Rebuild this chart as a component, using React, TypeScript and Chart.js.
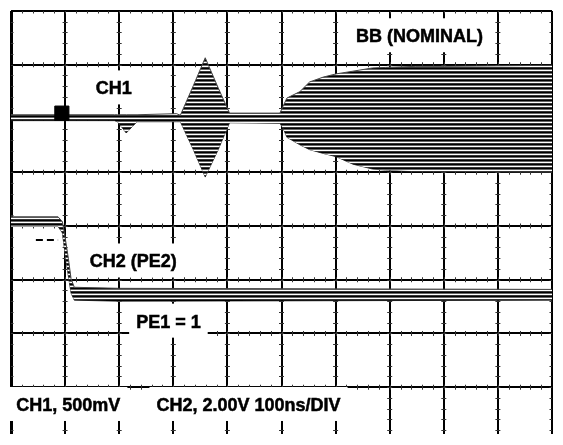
import React, { useEffect, useRef } from "react";
import { Chart, registerables } from "chart.js";

Chart.register(...registerables);

// Horizontal axis: time in divisions (100 ns/DIV), 10 divisions across the screen.
// Vertical axis: screen divisions, 0 = bottom, 8 = top.
const xDivisions = [0, 1, 2, 3, 4, 5, 6, 7, 8, 9, 10];

// CH1 (500 mV/div) – envelope of the burst seen on the screen
const ch1X = [0.0, 1.91, 1.97, 2.13, 2.33, 3.06, 3.13, 3.37, 3.59, 3.83, 4.04, 4.97, 5.03, 5.1, 5.34, 5.52, 5.77, 6.01, 6.32, 6.68, 6.92, 7.47, 8.01, 10.0];
const ch1Upper = [6.07, 6.07, 6.07, 6.07, 6.07, 6.09, 6.06, 6.61, 7.13, 6.57, 6.1, 6.1, 6.23, 6.38, 6.5, 6.68, 6.77, 6.83, 6.88, 6.94, 6.95, 6.97, 6.97, 6.99];
const ch1Lower = [5.96, 5.96, 5.94, 5.73, 5.94, 5.94, 5.94, 5.42, 4.91, 5.42, 5.92, 5.91, 5.82, 5.65, 5.51, 5.42, 5.35, 5.29, 5.15, 5.06, 5.04, 5.02, 5.02, 5.0];

// CH2 (PE2), 2.00 V/div – falling step
const ch2X = [0, 0.87, 0.95, 1.0, 1.06, 1.11, 1.17, 2.0, 10.0];
const ch2Upper = [4.17, 4.17, 4.08, 3.79, 3.4, 3.02, 2.86, 2.84, 2.82];
const ch2Lower = [3.99, 3.99, 3.87, 3.48, 3.07, 2.75, 2.62, 2.6, 2.62];

// CH2 ground reference marker (dashed) and CH1 marker block
const ch2RefX = [0.46, 0.87];
const ch2RefY = [3.74, 3.74];
const ch1MarkX = [0.94];
const ch1MarkY = [6.1];

// On-screen annotations
const labelTexts = ["CH1", "BB (NOMINAL)", "CH2 (PE2)", "PE1 = 1", "CH1, 500mV", "CH2, 2.00V 100ns/DIV"];
const labelXs = [1.9, 7.55, 2.26, 2.91, 1.06, 4.39];
const labelYs = [6.56, 7.53, 3.34, 2.22, 0.67, 0.67];

const FONT = "bold 18px 'Liberation Sans', Arial, sans-serif";

function pts(xs: number[], ys: number[]) {
  return xs.map((x, i) => ({ x, y: ys[i] }));
}

function makeStripe(): CanvasPattern | string {
  const c = document.createElement("canvas");
  c.width = 4;
  c.height = 4;
  const g = c.getContext("2d");
  if (!g) return "#333";
  const rows = ["#000000", "#666666", "#ffffff", "#333333"];
  rows.forEach((col, i) => {
    g.fillStyle = col;
    g.fillRect(0, i, 4, 1);
  });
  return g.createPattern(c, "repeat") || "#333";
}

const minorTicks = {
  id: "minorTicks",
  beforeDatasetsDraw(chart: any) {
    const { ctx, scales, chartArea } = chart;
    const xs = scales.x;
    const ys = scales.y;
    ctx.save();
    ctx.beginPath();
    ctx.rect(chartArea.left, chartArea.top, chartArea.right - chartArea.left, chartArea.bottom - chartArea.top);
    ctx.clip();
    ctx.strokeStyle = "#333";
    ctx.lineWidth = 1;
    ctx.beginPath();
    for (let yv = 1; yv <= 8; yv++) {
      const py = ys.getPixelForValue(yv);
      for (let k = 1; k < 50; k++) {
        const px = Math.round(xs.getPixelForValue(k * 0.2)) + 0.5;
        ctx.moveTo(px, py - 2.5);
        ctx.lineTo(px, py + 2.5);
      }
    }
    for (const xv of xDivisions) {
      const px = xs.getPixelForValue(xv);
      for (let k = 1; k < 40; k++) {
        const py = Math.round(ys.getPixelForValue(k * 0.2)) + 0.5;
        ctx.moveTo(px - 2.5, py);
        ctx.lineTo(px + 2.5, py);
      }
    }
    ctx.stroke();
    ctx.restore();
  },
};

const screenLabels = {
  id: "screenLabels",
  afterDatasetsDraw(chart: any) {
    const { ctx, scales } = chart;
    ctx.save();
    ctx.font = FONT;
    ctx.textAlign = "center";
    ctx.textBaseline = "middle";
    labelTexts.forEach((t, i) => {
      const cx = scales.x.getPixelForValue(labelXs[i]);
      const cy = scales.y.getPixelForValue(labelYs[i]);
      const w = ctx.measureText(t).width;
      ctx.fillStyle = "#ffffff";
      ctx.fillRect(cx - w / 2 - 7, cy - 18, w + 14, 34);
      ctx.fillStyle = "#000000";
      ctx.fillText(t, cx, cy + 1);
      ctx.strokeStyle = "#000000";
      ctx.lineWidth = 0.5;
      ctx.strokeText(t, cx, cy + 1);
    });
    ctx.restore();
  },
};

export default function App() {
  const ref = useRef<HTMLCanvasElement | null>(null);

  useEffect(() => {
    if (!ref.current) return;
    const stripe = makeStripe();
    const chart = new Chart(ref.current, {
      type: "line",
      data: {
        datasets: [
          {
            label: "CH1 upper",
            data: pts(ch1X, ch1Upper),
            borderColor: "#444",
            borderWidth: 1,
            pointRadius: 0,
            tension: 0,
            fill: "+1",
            backgroundColor: stripe as any,
          },
          {
            label: "CH1 lower",
            data: pts(ch1X, ch1Lower),
            borderColor: "#444",
            borderWidth: 1,
            pointRadius: 0,
            tension: 0,
            fill: false,
          },
          {
            label: "CH2 upper",
            data: pts(ch2X, ch2Upper),
            borderColor: "#444",
            borderWidth: 1,
            pointRadius: 0,
            tension: 0,
            fill: "+1",
            backgroundColor: stripe as any,
          },
          {
            label: "CH2 lower",
            data: pts(ch2X, ch2Lower),
            borderColor: "#444",
            borderWidth: 1,
            pointRadius: 0,
            tension: 0,
            fill: false,
          },
          {
            label: "CH2 ref",
            data: pts(ch2RefX, ch2RefY),
            borderColor: "#000",
            borderWidth: 2,
            borderDash: [7, 4],
            pointRadius: 0,
            fill: false,
          },
          {
            label: "CH1 marker",
            data: pts(ch1MarkX, ch1MarkY),
            showLine: false,
            order: -1,
            pointStyle: "rect",
            pointRadius: 10,
            pointBackgroundColor: "#000",
            pointBorderColor: "#000",
            pointBorderWidth: 1,
          },
        ],
      },
      options: {
        animation: false,
        responsive: false,
        events: [],
        layout: { padding: { left: 10, right: 4, top: 7, bottom: 2 } },
        plugins: { legend: { display: false }, tooltip: { enabled: false } },
        scales: {
          x: {
            type: "linear",
            min: 0,
            max: 10,
            ticks: { display: false, stepSize: 1 },
            grid: {
              color: "#000",
              lineWidth: (c: any) => (c.tick && c.tick.value === 0 ? 3 : 2),
              drawTicks: false,
            },
            border: { display: false },
          },
          y: {
            type: "linear",
            min: 0.13,
            max: 8,
            ticks: { display: false, stepSize: 1, includeBounds: false },
            grid: { color: "#000", lineWidth: 2, drawTicks: false },
            border: { display: false },
          },
        },
      },
      plugins: [minorTicks, screenLabels],
    });
    return () => chart.destroy();
  }, []);

  return (
    <div style={{ position: "absolute", left: 0, top: 0, width: 563, height: 445, background: "#fff" }}>
      <canvas ref={ref} width={563} height={445} />
    </div>
  );
}
